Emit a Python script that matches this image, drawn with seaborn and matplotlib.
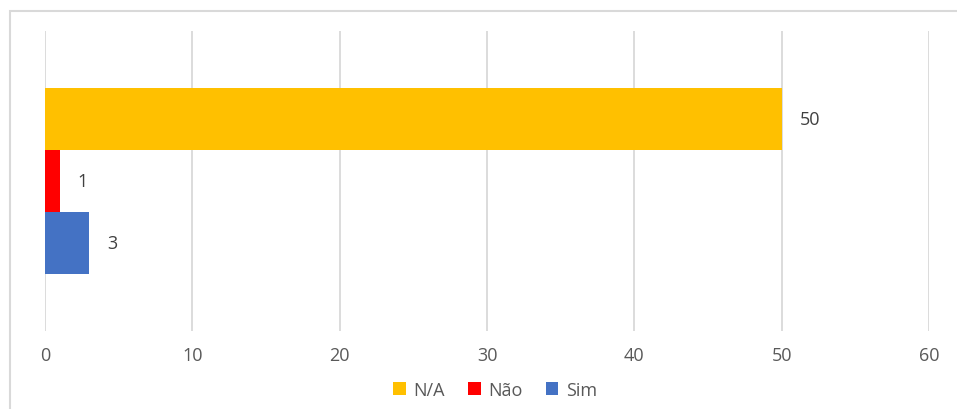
import matplotlib
matplotlib.use("Agg")
import matplotlib.pyplot as plt
import seaborn as sns
import pandas as pd
from matplotlib.patches import Rectangle

# Answer counts
series = ["N/A", "Não", "Sim"]
values = [50, 1, 3]
colors = ["#FFC000", "#FF0000", "#4472C4"]
xticks = [0, 10, 20, 30, 40, 50, 60]

df = pd.DataFrame({"grupo": ["" for _ in series], "resposta": series, "total": values})

sns.set_theme(style="white")
plt.rcParams["font.family"] = ["Open Sans", "DejaVu Sans"]

W, H = 957, 410
fig = plt.figure(figsize=(W / 100, H / 100), dpi=100)
ax = fig.add_axes([45 / W, 1 - 332 / H, (929 - 45) / W, 300 / H])

sns.barplot(data=df, y="grupo", x="total", hue="resposta", hue_order=series,
            palette=colors, orient="h", width=0.62, saturation=1,
            linewidth=0, ax=ax, legend=True)

ax.set_xlim(0, 60)
ax.set_ylim(0.5, -0.5)
ax.set_xticks(xticks)
ax.set_xticklabels([str(t) for t in xticks], fontsize=13, color="#595959")
ax.tick_params(axis="x", length=0, pad=11)
ax.set_yticks([])
ax.set_xlabel("")
ax.set_ylabel("")
ax.xaxis.grid(True, color="#D9D9D9", linewidth=1.3)
ax.set_axisbelow(True)
for s in ax.spines.values():
    s.set_visible(False)

# value labels at the end of each bar
for cont in ax.containers:
    ax.bar_label(cont, padding=13, fontsize=13, color="#404040")

handles, labels = ax.get_legend_handles_labels()
ax.get_legend().remove()
fig.legend(handles, labels, loc="center", bbox_to_anchor=(495 / W, 1 - 391 / H),
           ncol=3, frameon=False, fontsize=13, handlelength=0.7, handleheight=0.7,
           handletextpad=0.4, columnspacing=1.3, labelcolor="#595959")

# chart frame
fig.patches.append(Rectangle((10 / W, -0.1), 1.2, 1 - 12 / H + 0.1,
                             transform=fig.transFigure, fill=False,
                             edgecolor="#D9D9D9", linewidth=1.5))

fig.savefig("out.png", dpi=100)
